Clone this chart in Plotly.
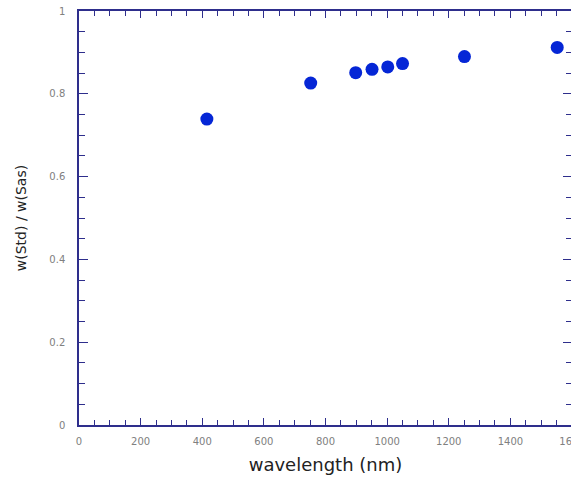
import plotly.graph_objects as go

wavelength = [415, 752, 898, 951, 1002, 1050, 1251, 1552]
ratio = [0.739, 0.826, 0.851, 0.859, 0.865, 0.873, 0.890, 0.912]
x_ticks = [0, 200, 400, 600, 800, 1000, 1200, 1400, 1600]
x_tick_labels = ["0", "200", "400", "600", "800", "1000", "1200", "1400", "1600"]
y_ticks = [0, 0.2, 0.4, 0.6, 0.8, 1]
y_tick_labels = ["0", "0.2", "0.4", "0.6", "0.8", "1"]

axis_color = "#2e2e8c"
tick_font = dict(family="DejaVu Sans, sans-serif", size=10, color="#808080")
title_family = "DejaVu Sans, sans-serif"

fig = go.Figure()
fig.add_trace(go.Scatter(
    x=wavelength, y=ratio, mode="markers",
    marker=dict(color="#0526d6", size=13, line=dict(width=0)),
    showlegend=False,
))

# the original chart is cropped on the right: the right frame lies just past the edge
fig.update_layout(
    width=572, height=477,
    margin=dict(l=79, r=0, t=11, b=52, autoexpand=False),
    paper_bgcolor="white", plot_bgcolor="white",
)
fig.update_xaxes(
    range=[0, 1600], tickvals=x_ticks, ticktext=x_tick_labels,
    showgrid=False, zeroline=False, automargin=False,
    showline=True, linecolor=axis_color, linewidth=1.5, mirror="allticks",
    ticks="inside", ticklen=7, tickwidth=1.2, tickcolor=axis_color,
    minor=dict(ticks="inside", dtick=50, ticklen=5, tickwidth=1.2, tickcolor=axis_color, showgrid=False),
    tickfont=tick_font, ticklabelstandoff=6, ticklabeloverflow="allow",
    title=dict(text="wavelength (nm)", font=dict(family=title_family, size=18, color="#222222"), standoff=13),
)
fig.update_yaxes(
    range=[0, 1], tickvals=y_ticks, ticktext=y_tick_labels,
    showgrid=False, zeroline=False, automargin=False,
    showline=True, linecolor=axis_color, linewidth=1.5, mirror="allticks",
    ticks="inside", ticklen=9, tickwidth=1.2, tickcolor=axis_color,
    minor=dict(ticks="inside", dtick=0.05, ticklen=6, tickwidth=1.2, tickcolor=axis_color, showgrid=False),
    tickfont=tick_font, ticklabelstandoff=10, ticklabeloverflow="allow",
    title=dict(text="w(Std) / w(Sas)", font=dict(family=title_family, size=14, color="#222222"), standoff=19),
)

fig.write_html(
    "out.html",
    config={"displayModeBar": False},
    post_script="document.body.style.margin='0';document.body.style.overflow='hidden';",
)
